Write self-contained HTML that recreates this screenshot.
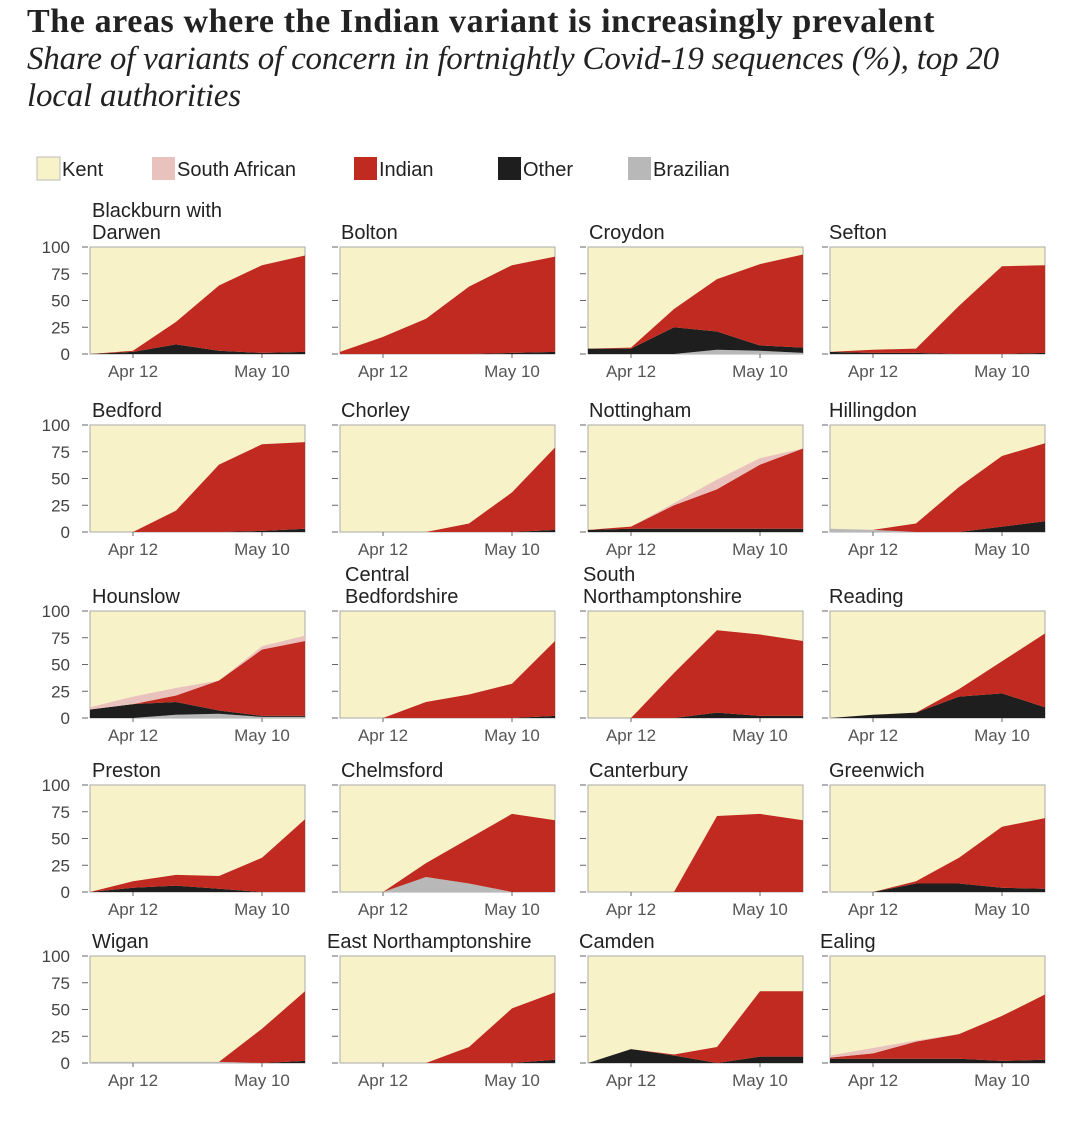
<!DOCTYPE html>
<html><head><meta charset="utf-8">
<style>
body{margin:0;background:#fff;width:1080px;height:1130px;overflow:hidden;font-family:"Liberation Sans Narrow","Liberation Sans",sans-serif;}
#title{position:absolute;left:27px;top:3px;font:bold 34px "Liberation Serif",serif;color:#222;letter-spacing:0.6px;white-space:nowrap;}
#sub{position:absolute;left:27px;top:41px;width:1040px;font:italic 33px/37px "Liberation Serif",serif;color:#222;letter-spacing:-0.2px;white-space:nowrap;}
svg{position:absolute;left:0;top:0;}
</style></head><body>
<div id="title">The areas where the Indian variant is increasingly prevalent</div>
<div id="sub">Share of variants of concern in fortnightly Covid-19 sequences (%), top 20<br>local authorities</div>
<svg id="chart" width="1080" height="1130"></svg>
<script>
const names=["Blackburn with|Darwen","Bolton","Croydon","Sefton","Bedford","Chorley","Nottingham","Hillingdon","Hounslow","Central|Bedfordshire","South|Northamptonshire","Reading","Preston","Chelmsford","Canterbury","Greenwich","Wigan","East Northamptonshire","Camden","Ealing"];
const brazilian=[[0,0,0,0,0,0],[0,0,0,0,0,0],[0,0,0,4,3,1],[0,0,0,0,0,0],[0,0,0,0,0,0],[0,0,0,0,0,0],[0,0,0,0,0,0],[3,2,0,0,0,0],[0,0,3,4,1,1],[0,0,0,0,0,0],[0,0,0,0,0,0],[0,0,0,0,0,0],[0,0,0,0,0,0],[0,0,14,8,0,0],[0,0,0,0,0,0],[0,0,0,0,0,0],[1,1,1,1,0,0],[0,0,0,0,0,0],[0,0,0,0,0,0],[0,0,0,0,0,0]];
const other=[[0,2,9,3,1,2],[0,0,0,0,1,2],[5,5,25,17,5,5],[2,1,1,0,0,1],[0,0,0,0,1,3],[0,0,0,0,0,2],[2,3,3,3,3,3],[0,0,0,0,5,10],[8,13,12,3,1,1],[0,0,0,0,0,2],[0,0,0,5,2,2],[0,3,5,20,23,10],[0,4,6,3,0,0],[0,0,0,0,0,0],[0,0,0,0,0,0],[0,0,8,8,4,3],[0,0,0,0,0,2],[0,0,0,0,0,3],[0,13,7,0,6,6],[4,4,4,4,2,3]];
const indian=[[0,1,21,61,82,90],[2,16,33,63,82,89],[0,1,17,49,76,87],[0,3,4,45,82,82],[0,0,20,63,81,81],[0,0,0,8,37,77],[0,2,22,37,60,75],[0,0,8,42,66,73],[0,0,6,28,62,70],[0,0,15,22,32,70],[0,0,42,77,76,70],[0,0,0,7,30,69],[0,6,10,12,32,68],[0,0,13,42,73,67],[0,0,0,71,73,67],[0,0,2,24,57,66],[0,0,0,0,32,65],[0,0,0,15,51,63],[0,0,1,15,61,61],[1,5,16,23,42,61]];
const southAfrican=[[0,0,0,0,0,0],[0,0,0,0,0,0],[0,0,0,0,0,0],[0,0,0,0,0,0],[0,0,0,0,0,0],[0,0,0,0,0,0],[0,0,2,9,6,0],[0,0,0,0,0,0],[2,7,7,0,3,5],[0,0,0,0,0,0],[0,0,0,0,0,0],[0,0,0,0,0,0],[0,0,0,0,0,0],[0,0,0,0,0,0],[0,0,0,0,0,0],[0,0,0,0,0,0],[0,0,0,0,0,0],[0,0,0,0,0,0],[0,0,0,0,0,0],[2,5,1,0,0,0]];
const yTicks=[0,25,50,75,100];
const xTickLabels=["Apr 12","May 10"];
const xTickIdx=[1,4];
const legendLabels=["Kent","South African","Indian","Other","Brazilian"];

const C={kent:"#f8f2c9",sa:"#e9c1bd",ind:"#c02a21",oth:"#1e1e1e",bra:"#b8b8b8"};
const colX=[90,340,588,830], rowY=[247,425,611,785,956], W=215, H=107;
const svg=document.getElementById('chart');
const NS="http://www.w3.org/2000/svg";
function el(t,a,p){const e=document.createElementNS(NS,t);for(const k in a)e.setAttribute(k,a[k]);(p||svg).appendChild(e);return e;}

const legX=[37,152,354,498,628];
const legC=[C.kent,C.sa,C.ind,C.oth,C.bra];
legendLabels.forEach((l,i)=>{
  const g=el('g',{});
  
  
  el('rect',{x:legX[i],y:157,width:23,height:23,fill:legC[i],stroke:i===0?"#bbb":"none"},g);
  const t=el('text',{x:legX[i]+25,y:176,'font-size':20,fill:'#222'},g);t.textContent=l;
});

names.forEach((n,p)=>{
  const c=p%4,r=Math.floor(p/4),x0=colX[c],y0=rowY[r];
  const g=el('g',{});
  
  
  const sx=i=>x0+i*W/5, sy=v=>y0+H-v*H/100;
  el('rect',{x:x0,y:y0,width:W,height:H,fill:C.kent,stroke:"#aaa",'stroke-width':1},g);
  const layers=[[brazilian[p],C.bra,'brazilian'],[other[p],C.oth,'other'],[indian[p],C.ind,'indian'],[southAfrican[p],C.sa,'south-african']];
  let base=[0,0,0,0,0,0];
  layers.forEach(([vals,col,nm])=>{
    const top=base.map((b,i)=>b+vals[i]);
    let d='M'+top.map((v,i)=>sx(i)+','+sy(v)).join('L');
    for(let i=5;i>=0;i--) d+='L'+sx(i)+','+sy(base[i]);
    const a=el('path',{d:d+'Z',fill:col},g);
    
    
    base=top;
  });
  yTicks.forEach(v=>{
    el('line',{x1:x0-8,x2:x0-2,y1:sy(v),y2:sy(v),stroke:'#666'},g);
    if(c===0){const t=el('text',{x:x0-20,y:sy(v)+6,'text-anchor':'end','font-size':17,fill:'#444'},g);t.textContent=v;}
  });
  xTickLabels.forEach((l,k)=>{
    el('line',{x1:sx(xTickIdx[k]),x2:sx(xTickIdx[k]),y1:y0+H,y2:y0+H+4,stroke:'#666'},g);
    const t=el('text',{x:sx(xTickIdx[k]),y:y0+H+23,'text-anchor':'middle','font-size':17,fill:'#555'},g);t.textContent=l;
  });
  const lines=n.split('|');
  const tx=[92,341,589,829][c]+({9:4,10:-6,17:-14,18:-10,19:-9}[p]||0);
  lines.forEach((l,k)=>{
    const t=el('text',{x:tx,y:y0-8-(lines.length-1-k)*22,'font-size':20,fill:'#222'},g);
    
    
    t.textContent=l;
  });
});
</script>
</body></html>
